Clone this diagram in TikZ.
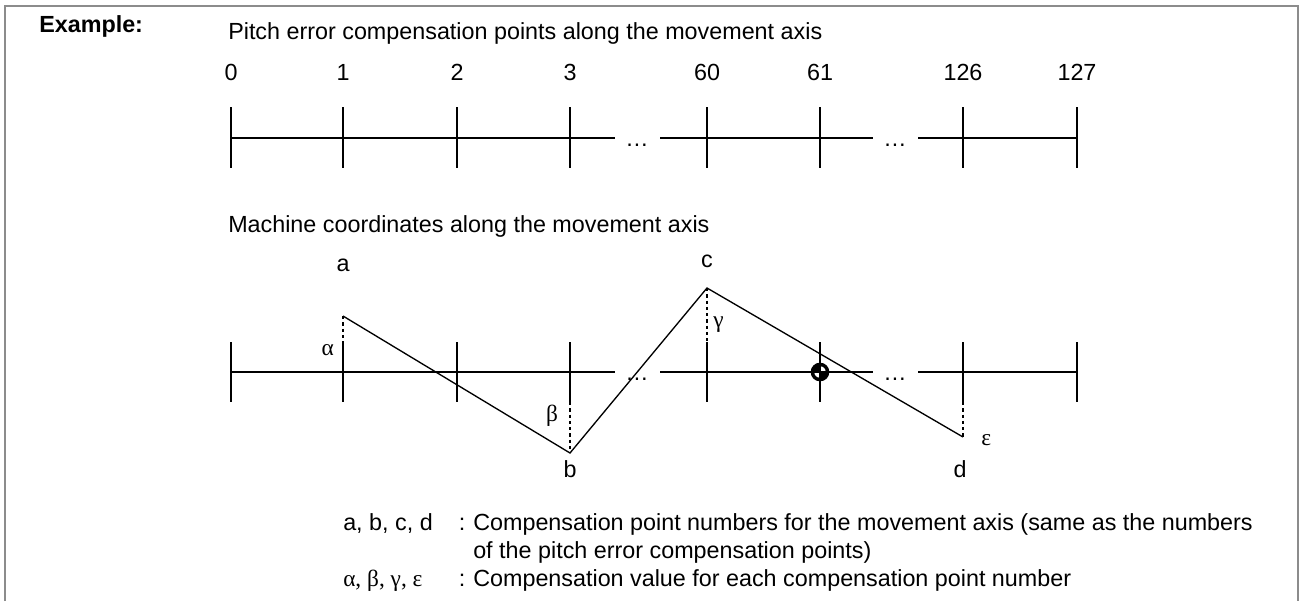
\documentclass[tikz,border=0pt]{standalone}
\usepackage{fontspec}
\setmainfont{Liberation Sans}
\newfontfamily\grkfont{Liberation Serif}
\usetikzlibrary{positioning,calc}
\definecolor{framegray}{RGB}{140,140,140}
\tikzset{
  axl/.style={line width=1pt},
  tickl/.style={line width=1pt},
  zigl/.style={line width=1pt},
  dashl/.style={line width=1pt,dash pattern=on 2.5pt off 2.2pt},
  txt/.style={font=\fontsize{17.5}{21}\selectfont,inner sep=0pt},
  bold/.style={txt,font=\fontsize{17.5}{21}\selectfont\bfseries},
  grk/.style={font=\grkfont\fontsize{17.5}{21}\selectfont,inner sep=0pt},
}

\begin{document}
\begin{tikzpicture}[x=0.75pt,y=-0.75pt]
  \useasboundingbox (0,0) rectangle (1300,601);
  % frame, open at the bottom
  \draw[framegray,line width=1.5pt] (5,601) -- (5,6) -- (1298,6) -- (1298,601);

  \node[bold,anchor=base west] (ex) at (39,32) {Example:};
  \node[txt,anchor=base west] (ttop) at (228,39)
    {Pitch error compensation points along the movement axis};
  \node[txt,anchor=base west] (tbot) at (228,232)
    {Machine coordinates along the movement axis};

  % pitch error compensation points
  \foreach \x/\n [count=\i] in {231/0,343/1,457/2,570/3,707/60,820/61,963/126,1077/127} {
    \node[txt,anchor=base] (n\i) at (\x,80) {\n};
    \draw[tickl] (\x,107) -- (\x,168);
  }
  \coordinate (u1) at (231,138);  \coordinate (u2) at (615,138);
  \coordinate (u3) at (660,138);  \coordinate (u4) at (873,138);
  \coordinate (u5) at (918,138);  \coordinate (u6) at (1077,138);
  \draw[axl] (u1) -- (u2) (u3) -- (u4) (u5) -- (u6);
  \node[txt,anchor=base] (ud1) at (637,146) {\ldots};
  \node[txt,anchor=base] (ud2) at (895,146) {\ldots};

  % reference point marker
  \fill (820,372) circle (7pt);
  \fill[white] (820,372) -- ++(4.3pt,0) arc[start angle=0,end angle=90,radius=4.3pt] -- cycle;
  \fill[white] (820,372) -- ++(-4.3pt,0) arc[start angle=180,end angle=270,radius=4.3pt] -- cycle;

  % machine coordinates
  \foreach \x in {231,343,457,570,707,820,963,1077}
    \draw[tickl] (\x,342) -- (\x,402);
  \coordinate (w1) at (231,372);  \coordinate (w2) at (615,372);
  \coordinate (w3) at (660,372);  \coordinate (w4) at (873,372);
  \coordinate (w5) at (918,372);  \coordinate (w6) at (1077,372);
  \draw[axl] (w1) -- (w2) (w3) -- (w4) (w5) -- (w6);
  \node[txt,anchor=base] (wd1) at (637,380) {\ldots};
  \node[txt,anchor=base] (wd2) at (895,380) {\ldots};

  \coordinate (a) at (343,316);
  \coordinate (b) at (570,453);
  \coordinate (c) at (707,288);
  \coordinate (d) at (963,437);
  \draw[zigl] (a) -- (b) -- (c) -- (d);
  \draw[dashl] (a) -- (343,342);
  \draw[dashl] (570,402) -- (b);
  \draw[dashl] (c) -- (707,342);
  \draw[dashl] (963,402) -- (d);

  \node[txt,anchor=base] (la) at (343,271) {a};
  \node[txt,anchor=base] (lb) at (570,477) {b};
  \node[txt,anchor=base] (lc) at (707,267) {c};
  \node[txt,anchor=base] (ld) at (960,477) {d};
  \node[grk,anchor=base east] (al) at (334,355) {α};
  \node[grk,anchor=base] (be) at (552,421) {β};
  \node[grk,anchor=base west] (ga) at (713,327) {γ};
  \node[grk,anchor=base west] (ep) at (981,445) {ε};

  % legend
  \node[txt,anchor=base west] (k1) at (343,530) {a, b, c, d};
  \node[txt,anchor=base] (c1) at (462,530) {:};
  \node[txt,anchor=base west] (v1) at (473,530)
    {Compensation point numbers for the movement axis (same as the numbers};
  \node[txt,anchor=base west] (v2) at (473,558)
    {of the pitch error compensation points)};
  \node[grk,anchor=base west] (k2) at (343,586) {α, β, γ, ε};
  \node[txt,anchor=base] (c2) at (462,586) {:};
  \node[txt,anchor=base west] (v3) at (473,586)
    {Compensation value for each compensation point number};
\end{tikzpicture}
\end{document}
